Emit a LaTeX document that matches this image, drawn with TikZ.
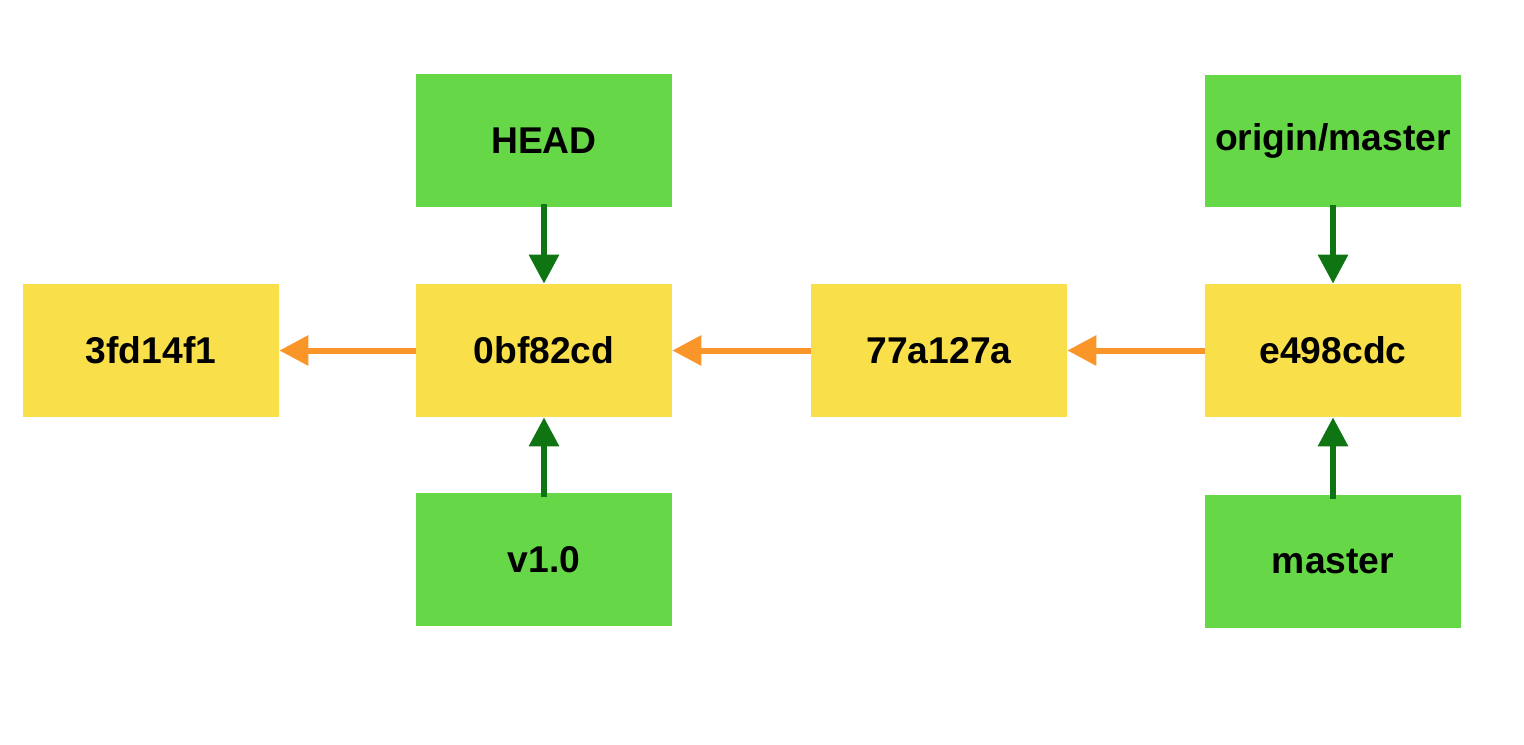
\documentclass[tikz,border=0pt]{standalone}
\usepackage{fontspec}
\setmainfont{Liberation Sans}
\usetikzlibrary{arrows.meta}
\definecolor{commitfill}{HTML}{F9E04B}
\definecolor{reffill}{HTML}{66D746}
\definecolor{parentarrow}{HTML}{FA9629}
\definecolor{refarrow}{HTML}{0F7512}
\begin{document}
\begin{tikzpicture}[x=0.02cm,y=-0.02cm]

% Define block styles
\tikzstyle{commit} = [rectangle, minimum width=5.12cm, minimum height=2.66cm, text centered, fill=commitfill, font=\fontsize{21.2}{25}\selectfont\bfseries]
\tikzstyle{ref} = [commit, fill=reffill]
\tikzstyle{parent} = [line width=0.12cm, draw=parentarrow, -{Triangle[length=0.58cm,width=0.58cm]}]
\tikzstyle{pointer} = [line width=0.12cm, draw=refarrow, -{Triangle[length=0.58cm,width=0.58cm]}]

\useasboundingbox (0,0) rectangle (1524,744);

% Define nodes
\node (c1) [commit] at (151,350.5) {3fd14f1};
\node (c2) [commit] at (544,350.5) {0bf82cd};
\node (c3) [commit] at (939,350.5) {77a127a};
\node (c4) [commit] at (1333,350.5) {e498cdc};

\node (head) [ref] at (544,140.5) {HEAD};
\node (tag) [ref] at (544,559.5) {v1.0};
\node (origin) [ref] at (1333,141) {origin/master};
\node (master) [ref] at (1333,561.5) {master};

% Draw arrows
\draw [parent] (c2.west) -- (c1.east);
\draw [parent] (c3.west) -- (c2.east);
\draw [parent] (c4.west) -- (c3.east);

\draw [pointer] ([yshift=0.06cm]head.south) -- (c2.north);
\draw [pointer] ([yshift=-0.08cm]tag.north) -- (c2.south);
\draw [pointer] ([yshift=0.06cm]origin.south) -- (c4.north);
\draw [pointer] ([yshift=-0.08cm]master.north) -- (c4.south);

\end{tikzpicture}
\end{document}
